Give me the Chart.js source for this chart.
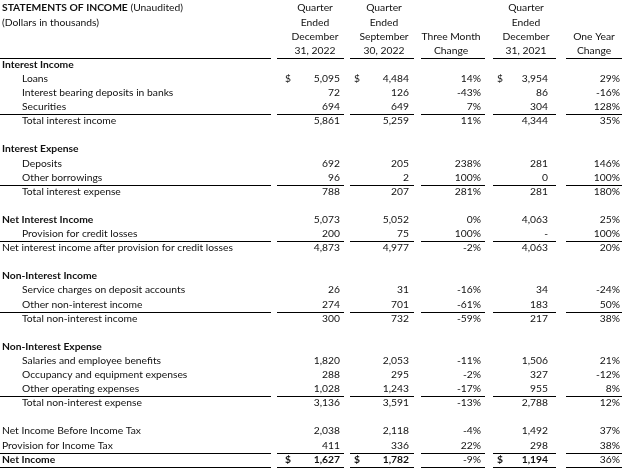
<!DOCTYPE html>
<html>
<head>
<meta charset="utf-8">
<script src="https://cdn.jsdelivr.net/npm/chart.js@4/dist/chart.umd.min.js"></script>
<style>
  body { margin: 0; background: #fff; }
  canvas { display: block; }
</style>
</head>
<body>
<canvas id="myChart" width="624" height="469"></canvas>
<script>
// Rows of the statement (starting at table row 4, below the headers)
const labels = [
  'Interest Income', 'Loans', 'Interest bearing deposits in banks', 'Securities', 'Total interest income', '',
  'Interest Expense', 'Deposits', 'Other borrowings', 'Total interest expense', '',
  'Net Interest Income', 'Provision for credit losses', 'Net interest income after provision for credit losses', '',
  'Non-Interest Income', 'Service charges on deposit accounts', 'Other non-interest income', 'Total non-interest income', '',
  'Non-Interest Expense', 'Salaries and employee benefits', 'Occupancy and equipment expenses', 'Other operating expenses', 'Total non-interest expense', '',
  'Net Income Before Income Tax', 'Provision for Income Tax', 'Net Income'
]

const dec2022 = [null, 5095, 72, 694, 5861, null, null, 692, 96, 788, null, 5073, 200, 4873, null, null, 26, 274, 300, null, null, 1820, 288, 1028, 3136, null, 2038, 411, 1627]
const sep2022 = [null, 4484, 126, 649, 5259, null, null, 205, 2, 207, null, 5052, 75, 4977, null, null, 31, 701, 732, null, null, 2053, 295, 1243, 3591, null, 2118, 336, 1782]
const threeMonth = [null, 14, -43, 7, 11, null, null, 238, 100, 281, null, 0, 100, -2, null, null, -16, -61, -59, null, null, -11, -2, -17, -13, null, -4, 22, -9]
const dec2021 = [null, 3954, 86, 304, 4344, null, null, 281, 0, 281, null, 4063, '-', 4063, null, null, 34, 183, 217, null, null, 1506, 327, 955, 2788, null, 1492, 298, 1194]
const oneYear = [null, 29, -16, 128, 35, null, null, 146, 100, 180, null, 25, 100, 20, null, null, -24, 50, 38, null, null, 21, -12, 8, 12, null, 37, 38, 36]

const colHeaders = [
  ['Quarter', 'Ended', 'December', '31, 2022'],
  ['Quarter', 'Ended', 'September', '30, 2022'],
  ['', '', 'Three Month', 'Change'],
  ['Quarter', 'Ended', 'December', '31, 2021'],
  ['', '', 'One Year', 'Change']
]

const boldRows = ['Interest Income', 'Interest Expense', 'Net Interest Income', 'Non-Interest Income', 'Non-Interest Expense', 'Net Income']
const flatRows = ['Net interest income after provision for credit losses', 'Net Income Before Income Tax', 'Provision for Income Tax']
const dollarRows = ['Loans', 'Net Income']
const ruleAbove = ['Total interest income', 'Total interest expense', 'Net interest income after provision for credit losses',
  'Total non-interest income', 'Total non-interest expense', 'Net Income']

// layout (pixels along the x scale, which runs 0..624)
const firstRow = 4
const font = 'Lato, "Noto Sans", sans-serif'
const fontSize = 10.3
const ink = '#111'
const labelX = 2
const indent = 20
const columns = [
  { series: dec2022, pct: false, right: 340, center: 315, dollar: 285, l: 277, r: 344 },
  { series: sep2022, pct: false, right: 409, center: 384, dollar: 354, l: 350, r: 414 },
  { series: threeMonth, pct: true, right: 481, center: 451, l: 421, r: 485 },
  { series: dec2021, pct: false, right: 548, center: 526, dollar: 497, l: 493, r: 556 },
  { series: oneYear, pct: true, right: 620, center: 594, l: 566, r: 622 }
]
const labelRule = { l: 0, r: 271 }

function fmt(v, pct) {
  if (typeof v === 'string') return v
  return pct ? v + '%' : v.toLocaleString('en-US')
}

const datasets = [{
  label: 'labels',
  data: labels.map((t, i) => ({ x: labelX, y: i + firstRow })),
  pointRadius: 0
}]
columns.forEach((c, k) => {
  const pts = []
  c.series.forEach((v, i) => {
    if (v !== null) pts.push({ x: c.right, y: i + firstRow, v: v })
  })
  datasets.push({ label: 'col' + k, data: pts, pointRadius: 0 })
})

function setFont(ctx, bold) {
  ctx.font = (bold ? 'bold ' : '') + fontSize + 'px ' + font
}

const tablePlugin = {
  id: 'table',
  afterDatasetsDraw(chart) {
    const ctx = chart.ctx
    const xs = chart.scales.x
    const ys = chart.scales.y
    const dy = 3.8
    ctx.save()
    ctx.fillStyle = ink
    ctx.textBaseline = 'alphabetic'

    // title block
    setFont(ctx, true)
    ctx.textAlign = 'left'
    const title = 'STATEMENTS OF INCOME'
    ctx.fillText(title, xs.getPixelForValue(labelX), ys.getPixelForValue(0) + dy)
    const tw = ctx.measureText(title).width
    setFont(ctx, false)
    ctx.fillText(' (Unaudited)', xs.getPixelForValue(labelX) + tw, ys.getPixelForValue(0) + dy)
    ctx.fillText('(Dollars in thousands)', xs.getPixelForValue(labelX), ys.getPixelForValue(1) + dy)

    // column headers
    ctx.textAlign = 'center'
    columns.forEach((c, k) => {
      colHeaders[k].forEach((t, r) => {
        if (t) ctx.fillText(t, xs.getPixelForValue(c.center), ys.getPixelForValue(r) + dy)
      })
    })

    // row labels
    const lab = chart.getDatasetMeta(0)
    ctx.textAlign = 'left'
    lab.data.forEach((pt, i) => {
      const t = labels[i]
      if (!t) return
      const bold = boldRows.includes(t)
      const flat = bold || flatRows.includes(t)
      setFont(ctx, bold)
      ctx.fillText(t, pt.x + (flat ? 0 : indent), pt.y + dy)
    })

    // values
    columns.forEach((c, k) => {
      const meta = chart.getDatasetMeta(k + 1)
      meta.data.forEach((pt, j) => {
        const d = chart.data.datasets[k + 1].data[j]
        const name = labels[d.y - firstRow]
        const bold = name === 'Net Income' && !c.pct
        setFont(ctx, bold)
        ctx.textAlign = 'right'
        ctx.fillText(fmt(d.v, c.pct), pt.x, pt.y + dy)
        if (c.dollar && dollarRows.includes(name)) {
          ctx.textAlign = 'left'
          ctx.fillText('$', xs.getPixelForValue(c.dollar), pt.y + dy)
        }
      })
    })

    // rules
    ctx.strokeStyle = '#000'
    ctx.lineWidth = 1.2
    const segs = [labelRule].concat(columns)
    const rule = (row) => {
      const y = Math.round(ys.getPixelForValue(row)) + 1.5
      segs.forEach(s => {
        ctx.beginPath()
        ctx.moveTo(xs.getPixelForValue(s.l), y)
        ctx.lineTo(xs.getPixelForValue(s.r), y)
        ctx.stroke()
      })
    }
    rule(3.5)
    labels.forEach((t, i) => {
      if (ruleAbove.includes(t)) rule(i + firstRow - 0.5)
    })
    rule(labels.length - 1 + firstRow + 0.5)
    ctx.restore()
  }
}

const config = {
  type: 'scatter',
  data: { datasets: datasets },
  options: {
    responsive: false,
    animation: false,
    events: [],
    layout: { padding: 0 },
    plugins: { legend: { display: false }, tooltip: { enabled: false } },
    scales: {
      x: { type: 'linear', min: 0, max: 624, display: false },
      y: { type: 'linear', min: -0.539, max: 32.72, reverse: true, display: false }
    }
  },
  plugins: [tablePlugin]
}

const myChart = new Chart(document.getElementById('myChart'), config)
</script>
</body>
</html>
